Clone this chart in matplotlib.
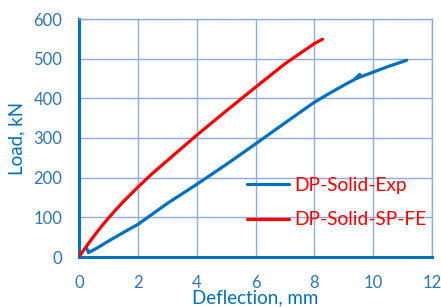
import matplotlib
matplotlib.use("Agg")
import matplotlib.pyplot as plt

exp_x = [0.24, 0.30, 0.32, 0.6, 1.0, 1.56, 2.0, 3.0, 4.0, 5.0, 6.0, 7.0, 8.0, 8.5, 9.0, 9.38, 9.55, 9.42, 10.0, 10.5, 11.14]
exp_y = [24, 16, 11, 22, 40, 64, 82, 135, 183, 233, 285, 338, 390, 412, 433, 448, 460, 450, 466, 480, 496]
fe_x = [0.0, 0.25, 0.5, 0.75, 1.0, 1.25, 1.5, 2.0, 2.5, 3.0, 4.0, 5.0, 6.0, 7.0, 8.0, 8.28]
fe_y = [0, 27, 52, 76, 98, 119, 139, 176, 211, 243, 307, 368, 428, 487, 538, 549]

xticks = [0, 2, 4, 6, 8, 10, 12]
yticks = [0, 100, 200, 300, 400, 500, 600]

plt.rcParams['font.family'] = ['Lato', 'DejaVu Sans']

fig = plt.figure(figsize=(4.41, 3.07), dpi=100)
ax = fig.add_axes([79/441, 1-257/307, (432-79)/441, (257-19)/307])

grid_c = '#8FAADC'
ax.plot(exp_x, exp_y, color='#0070C0', lw=2.3, label='DP-Solid-Exp', solid_capstyle='round', zorder=3)
ax.plot(fe_x, fe_y, color='#FF0000', lw=2.3, label='DP-Solid-SP-FE', solid_capstyle='round', zorder=3)

ax.set_xlim(0, 12)
ax.set_ylim(0, 600)
ax.set_xticks(xticks)
ax.set_yticks(yticks)
ax.grid(True, color=grid_c, lw=1.0)
for s in ['top', 'right']:
    ax.spines[s].set_color(grid_c)
    ax.spines[s].set_linewidth(1.0)
for s in ['left', 'bottom']:
    ax.spines[s].set_color('#0070C0')
    ax.spines[s].set_linewidth(2.2)
ax.tick_params(length=0, labelsize=12, labelcolor='#2E75B6')
ax.tick_params(axis='y', pad=12)
ax.tick_params(axis='x', pad=13)
ax.set_xlabel('Deflection, mm', fontsize=13.5, color='#0070C0', labelpad=-1)
ax.set_ylabel('Load, kN', fontsize=13.5, color='#0070C0', labelpad=6)

leg = ax.legend(loc='lower left', bbox_to_anchor=(0.477, 0.12), frameon=False,
                fontsize=13.8, handlelength=2.15, handletextpad=0.28, labelspacing=0.9,
                borderaxespad=0, borderpad=0)
for t in leg.get_texts():
    t.set_color('#FF0000')

fig.savefig('out.png', dpi=100)
